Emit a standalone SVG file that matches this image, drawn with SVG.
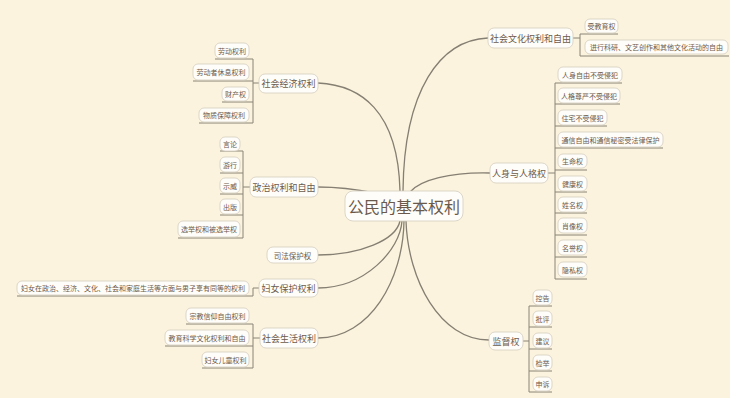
<svg xmlns="http://www.w3.org/2000/svg" width="730" height="398" viewBox="0 0 730 398">
<style>
text{font-family:"Noto Sans CJK SC","Noto Sans",sans-serif;fill:#6b5a4b;text-anchor:middle;dominant-baseline:central}
.b{fill:#fffdf9;stroke:#d3cdc0;stroke-width:0.8}
.c{font-size:16px}
.m{font-size:9px}
.s{font-size:7px}
.ln{fill:none;stroke:#8a8478;stroke-width:1}
.cv{fill:none;stroke:#857e72;stroke-width:1.3}
</style>
<rect width="730" height="398" fill="#fbf3dd"/>
<g id="connectors">
<path class="cv" d="M318,83 C360,85 398,110 400,191"/>
<path class="cv" d="M488,38 C440,40 404,90 403,191"/>
<path class="cv" d="M490,173 C450,172 420,180 410,192"/>
<path class="cv" d="M318,187 C340,187 360,190 375,193"/>
<path class="cv" d="M318,255 C360,255 396,240 400,221"/>
<path class="cv" d="M318,288 C365,288 400,250 402,221"/>
<path class="cv" d="M318,338 C370,338 403,280 404,221"/>
<path class="cv" d="M489,340 C440,340 408,280 406,221"/>
<!-- 社会经济权利 -->
<path class="ln" d="M253,59V123M253,83H259M215,59H253M193,81H253M222,102H253M199,123H253"/>
<!-- 政治权利和自由 -->
<path class="ln" d="M243,151V238M243,187H250M220,151H243M220,173H243M220,194H243M220,215H243M178,238H243"/>
<!-- 妇女保护权利 -->
<path class="ln" d="M17,296H253V288H259"/>
<!-- 社会生活权利 -->
<path class="ln" d="M253,324V368M253,338H260M186,324H253M165,346H253M202,368H253"/>
<!-- 社会文化权利和自由 -->
<path class="ln" d="M580,34V56M573,38H580M580,34H618M580,56H729"/>
<!-- 人身与人格权 -->
<path class="ln" d="M555,83V279M548,173H555M555,83H622M555,104H620M555,126H607M555,148H663M555,170H587M555,192H587M555,213H587M555,235H587M555,257H587M555,279H587"/>
<!-- 监督权 -->
<path class="ln" d="M529,306V392M523,341H529M529,306H552M529,327H552M529,349H552M529,371H552M529,392H552"/>
</g>
<g id="center"><rect class="b" x="345" y="191" width="118" height="30" rx="8"/><text class="c" x="404" y="206">公民的基本权利</text></g>

<g id="n-jingji"><rect class="b" x="259" y="74" width="59" height="19" rx="6"/><text class="m" x="288.5" y="83.5">社会经济权利</text></g>
<g id="l-laodong"><rect class="b" x="215" y="43" width="34" height="15" rx="5"/><text class="s" x="232" y="50.5">劳动权利</text></g>
<g id="l-xiuxi"><rect class="b" x="193" y="64" width="56" height="16" rx="5"/><text class="s" x="221" y="72">劳动者休息权利</text></g>
<g id="l-caichan"><rect class="b" x="222" y="87" width="27" height="14" rx="5"/><text class="s" x="235.5" y="94">财产权</text></g>
<g id="l-baozhang"><rect class="b" x="199" y="108" width="50" height="14" rx="5"/><text class="s" x="224" y="115">物质保障权利</text></g>

<g id="n-zhengzhi"><rect class="b" x="250" y="177" width="68" height="20" rx="6"/><text class="m" x="284" y="187">政治权利和自由</text></g>
<g id="l-yanlun"><rect class="b" x="220" y="137" width="20" height="14" rx="5"/><text class="s" x="230" y="144">言论</text></g>
<g id="l-youxing"><rect class="b" x="220" y="157" width="20" height="15" rx="5"/><text class="s" x="230" y="164.5">游行</text></g>
<g id="l-shiwei"><rect class="b" x="220" y="178" width="20" height="15" rx="5"/><text class="s" x="230" y="185.5">示威</text></g>
<g id="l-chuban"><rect class="b" x="220" y="199" width="20" height="15" rx="5"/><text class="s" x="230" y="206.5">出版</text></g>
<g id="l-xuanju"><rect class="b" x="178" y="221" width="62" height="16" rx="5"/><text class="s" x="209" y="229">选举权和被选举权</text></g>

<g id="n-sifa"><rect class="b" x="267" y="247" width="51" height="16" rx="6"/><text class="s" x="292.5" y="255" style="font-size:7.5px">司法保护权</text></g>

<g id="n-funv"><rect class="b" x="259" y="279" width="59" height="18" rx="6"/><text class="m" x="288.5" y="288">妇女保护权利</text></g>
<g id="l-funv"><rect class="b" x="17" y="281" width="232" height="14" rx="5"/><text class="s" x="133" y="288">妇女在政治、经济、文化、社会和家庭生活等方面与男子享有同等的权利</text></g>

<g id="n-shenghuo"><rect class="b" x="260" y="328" width="58" height="20" rx="6"/><text class="m" x="289" y="338">社会生活权利</text></g>
<g id="l-zongjiao"><rect class="b" x="186" y="308" width="63" height="15" rx="5"/><text class="s" x="217.5" y="315.5">宗教信仰自由权利</text></g>
<g id="l-jiaoyu"><rect class="b" x="165" y="330" width="84" height="15" rx="5"/><text class="s" x="207" y="337.5">教育科学文化权利和自由</text></g>
<g id="l-ertong"><rect class="b" x="202" y="352" width="47" height="15" rx="5"/><text class="s" x="225.5" y="359.5">妇女儿童权利</text></g>

<g id="n-wenhua"><rect class="b" x="488" y="28" width="85" height="20" rx="6"/><text class="m" x="530.5" y="38">社会文化权利和自由</text></g>
<g id="l-shoujiaoyu"><rect class="b" x="585" y="19" width="33" height="14" rx="5"/><text class="s" x="601.5" y="26">受教育权</text></g>
<g id="l-keyan"><rect class="b" x="585" y="40" width="143" height="14" rx="5"/><text class="s" x="656.5" y="47">进行科研、文艺创作和其他文化活动的自由</text></g>

<g id="n-renshen"><rect class="b" x="490" y="163" width="58" height="20" rx="6"/><text class="m" x="519" y="173">人身与人格权</text></g>
<g id="l-ziyou"><rect class="b" x="558" y="67" width="64" height="15" rx="5"/><text class="s" x="590" y="74.5">人身自由不受侵犯</text></g>
<g id="l-zunyan"><rect class="b" x="558" y="88" width="62" height="15" rx="5"/><text class="s" x="589" y="95.5">人格尊严不受侵犯</text></g>
<g id="l-zhuzhai"><rect class="b" x="558" y="110" width="49" height="15" rx="5"/><text class="s" x="582.5" y="117.5">住宅不受侵犯</text></g>
<g id="l-tongxin"><rect class="b" x="558" y="132" width="105" height="15" rx="5"/><text class="s" x="610.5" y="139.5">通信自由和通信秘密受法律保护</text></g>
<g id="l-shengming"><rect class="b" x="558" y="154" width="29" height="14" rx="5"/><text class="s" x="572.5" y="161">生命权</text></g>
<g id="l-jiankang"><rect class="b" x="558" y="176" width="29" height="15" rx="5"/><text class="s" x="572.5" y="183.5">健康权</text></g>
<g id="l-xingming"><rect class="b" x="558" y="197" width="29" height="15" rx="5"/><text class="s" x="572.5" y="204.5">姓名权</text></g>
<g id="l-xiaoxiang"><rect class="b" x="558" y="218" width="29" height="15" rx="5"/><text class="s" x="572.5" y="225.5">肖像权</text></g>
<g id="l-mingyu"><rect class="b" x="558" y="240" width="29" height="15" rx="5"/><text class="s" x="572.5" y="247.5">名誉权</text></g>
<g id="l-yinsi"><rect class="b" x="558" y="262" width="29" height="15" rx="5"/><text class="s" x="572.5" y="269.5">隐私权</text></g>

<g id="n-jiandu"><rect class="b" x="489" y="332" width="34" height="18" rx="6"/><text class="m" x="506" y="341">监督权</text></g>
<g id="l-konggao"><rect class="b" x="533" y="290" width="19" height="15" rx="5"/><text class="s" x="542.5" y="297.5">控告</text></g>
<g id="l-piping"><rect class="b" x="533" y="311" width="19" height="15" rx="5"/><text class="s" x="542.5" y="318.5">批评</text></g>
<g id="l-jianyi"><rect class="b" x="533" y="333" width="19" height="15" rx="5"/><text class="s" x="542.5" y="340.5">建议</text></g>
<g id="l-jianju"><rect class="b" x="533" y="355" width="19" height="15" rx="5"/><text class="s" x="542.5" y="362.5">检举</text></g>
<g id="l-shensu"><rect class="b" x="533" y="377" width="19" height="14" rx="5"/><text class="s" x="542.5" y="384">申诉</text></g>
</svg>
